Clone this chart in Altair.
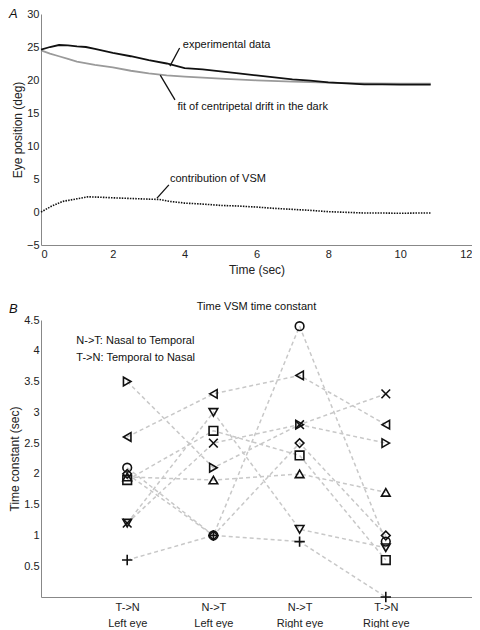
import altair as alt
import pandas as pd

# ---------------- Panel A data ----------------
t_exp = [0, 0.25, 0.5, 0.75, 1.0, 1.25, 1.5, 2.0, 2.5, 3.0, 3.5, 4.0, 4.5, 5.0, 5.5,
         6.0, 6.5, 7.0, 7.5, 8.0, 8.5, 9.0, 9.5, 10.0, 10.5, 10.85]
y_exp = [24.6, 25.0, 25.3, 25.25, 25.1, 25.0, 24.7, 24.1, 23.6, 23.0, 22.5, 21.8, 21.6,
         21.3, 21.0, 20.7, 20.4, 20.1, 19.9, 19.65, 19.5, 19.35, 19.35, 19.3, 19.3, 19.3]

t_fit = [0, 0.25, 0.5, 0.75, 1.0, 1.5, 2.0, 2.5, 3.0, 3.5, 4.0, 4.5, 5.0, 6.0, 7.0,
         8.0, 9.0, 10.0, 10.85]
y_fit = [24.5, 24.0, 23.6, 23.2, 22.8, 22.3, 21.9, 21.4, 21.0, 20.7, 20.5, 20.35, 20.2,
         19.95, 19.75, 19.6, 19.5, 19.45, 19.45]

t_vsm = [0, 0.3, 0.6, 1.0, 1.3, 1.6, 2.0, 2.5, 3.0, 3.3, 3.6, 4.0, 4.5, 5.0, 5.5, 6.0,
         6.5, 7.0, 7.5, 8.0, 8.5, 9.0, 9.5, 10.0, 10.5, 10.85]
y_vsm = [0, 0.9, 1.6, 2.0, 2.3, 2.25, 2.15, 2.05, 1.95, 1.9, 1.6, 1.35, 1.2, 1.0, 0.9,
         0.75, 0.55, 0.4, 0.25, 0.05, -0.05, -0.15, -0.15, -0.2, -0.15, -0.15]

ann_text = ["experimental data", "fit of centripetal drift in the dark", "contribution of VSM"]
ann_x = [3.95, 3.8, 3.59]
ann_y = [25.3, 15.9, 5.0]
ptr_x = [3.86, 3.73, 3.56]
ptr_y = [24.85, 17.0, 4.1]
ptr_x2 = [3.59, 3.32, 3.23]
ptr_y2 = [22.1, 20.75, 2.1]

# ---------------- Panel B data ----------------
conditions = [1, 2, 3, 4]
cond_dir = ["T->N", "N->T", "N->T", "T->N"]
cond_eye = ["Left eye", "Left eye", "Right eye", "Right eye"]

subjects = ["right", "left", "circle", "down", "up", "square", "x", "diamond", "plus"]
tc_right = [3.5, 2.1, 2.8, 2.5]
tc_left = [2.6, 3.3, 3.6, 2.8]
tc_circle = [2.1, 1.0, 4.4, 0.9]
tc_down = [1.2, 3.0, 1.1, 0.8]
tc_up = [1.95, 1.9, 2.0, 1.7]
tc_square = [1.9, 2.7, 2.3, 0.6]
tc_x = [1.2, 2.5, 2.8, 3.3]
tc_diamond = [2.0, 1.0, 2.5, 1.0]
tc_plus = [0.6, 1.0, 0.9, 0.0]
tc_all = [tc_right, tc_left, tc_circle, tc_down, tc_up, tc_square, tc_x, tc_diamond, tc_plus]

shapes = ["triangle-right", "triangle-left", "circle", "triangle-down", "triangle-up",
          "square", "M-1,-1L1,1M-1,1L1,-1", "diamond", "M-1.2,0L1.2,0M0,-1.2L0,1.2"]

note_lines = ["N->T: Nasal to Temporal", "T->N: Temporal to Nasal"]
note_x = [0.41, 0.41]
note_y = [4.16, 3.89]

title_b = ["Time VSM time constant"]
title_b_x = [2.5]
title_b_y = [4.71]

FONT = "Liberation Sans"
W = 431

# ---------------- Panel A ----------------
df_exp = pd.DataFrame({"t": t_exp, "y": y_exp})
df_fit = pd.DataFrame({"t": t_fit, "y": y_fit})
df_vsm = pd.DataFrame({"t": t_vsm, "y": y_vsm})
df_ann = pd.DataFrame({"t": ann_x, "y": ann_y, "text": ann_text})
df_ptr = pd.DataFrame({"t": ptr_x, "y": ptr_y, "t2": ptr_x2, "y2": ptr_y2})

axA_x = alt.Axis(title="Time (sec)", values=list(range(0, 13, 2)), grid=False,
                 labelFlush=True, labelPadding=3, titlePadding=5, labelOverlap=False,
                 format="~g")
axA_y = alt.Axis(title="Eye position (deg)", values=list(range(-5, 31, 5)), grid=False,
                 labelOverlap=False, labelPadding=2, titlePadding=2, format="~g")
scA_x = alt.Scale(domain=[0, 12], nice=False)
scA_y = alt.Scale(domain=[-5, 30], nice=False)
xA = alt.X("t:Q", scale=scA_x, axis=axA_x)
yA = alt.Y("y:Q", scale=scA_y, axis=axA_y)

fit_line = alt.Chart(df_fit).mark_line(color="#9a9a9a", strokeWidth=1.8).encode(x=xA, y=yA)
exp_line = alt.Chart(df_exp).mark_line(color="#111111", strokeWidth=1.8).encode(x=xA, y=yA)
vsm_line = alt.Chart(df_vsm).mark_line(color="#111111", strokeWidth=1.6,
                                       strokeDash=[1.5, 1.2]).encode(x=xA, y=yA)
ptr = alt.Chart(df_ptr).mark_rule(color="#111111", strokeWidth=1.3).encode(
    x=xA, y=yA, x2="t2:Q", y2="y2:Q")
ann = alt.Chart(df_ann).mark_text(align="left", baseline="middle", font=FONT,
                                  fontSize=11, color="#111111").encode(
    x=xA, y=yA, text="text:N")
labA = alt.Chart(pd.DataFrame({"l": ["A"]})).mark_text(
    align="left", baseline="top", font=FONT, fontSize=13, fontStyle="italic",
    color="#111111").encode(x=alt.value(-32), y=alt.value(-6), text="l:N")

panelA = alt.layer(fit_line, exp_line, vsm_line, ptr, ann, labA).properties(
    width=W, height=231)

# ---------------- Panel B ----------------
rows = []
for s, vals in zip(subjects, tc_all):
    for c, v in zip(conditions, vals):
        rows.append({"subject": s, "cond": c, "tc": v})
df_b = pd.DataFrame(rows)

label_expr = "[" + ",".join(
    "['%s','%s']" % (d, e) for d, e in zip(cond_dir, cond_eye)) + "][datum.value - 1]"

axB_x = alt.Axis(title=None, values=conditions, labelExpr=label_expr,
                 grid=False, labelLineHeight=16, labelPadding=4, labelOverlap=False)
axB_y = alt.Axis(title="Time constant (sec)",
                 values=[0.5, 1, 1.5, 2, 2.5, 3, 3.5, 4, 4.5], grid=False,
                 labelOverlap=False, labelPadding=2, titlePadding=2, format="~g")
xB = alt.X("cond:Q", scale=alt.Scale(domain=[0, 5], nice=False), axis=axB_x)
yB = alt.Y("tc:Q", scale=alt.Scale(domain=[0, 4.5], nice=False), axis=axB_y)

lines_b = alt.Chart(df_b).mark_line(color="#c8c8c8", strokeWidth=1.5,
                                    strokeDash=[4, 3]).encode(
    x=xB, y=yB, detail="subject:N", order="cond:Q")
points_b = alt.Chart(df_b).mark_point(filled=False, color="#111111", strokeWidth=1.6,
                                      size=75, opacity=1).encode(
    x=xB, y=yB,
    shape=alt.Shape("subject:N", scale=alt.Scale(domain=subjects, range=shapes), legend=None))
df_note = pd.DataFrame({"cond": note_x, "tc": note_y, "text": note_lines})
note = alt.Chart(df_note).mark_text(align="left", baseline="middle", font=FONT,
                                    fontSize=11, color="#111111").encode(
    x=xB, y=yB, text="text:N")
df_tb = pd.DataFrame({"cond": title_b_x, "tc": title_b_y, "text": title_b})
tb = alt.Chart(df_tb).mark_text(align="center", baseline="middle", font=FONT,
                                fontSize=11, color="#111111").encode(
    x=xB, y=yB, text="text:N")
labB = alt.Chart(pd.DataFrame({"l": ["B"]})).mark_text(
    align="left", baseline="top", font=FONT, fontSize=13, fontStyle="italic",
    color="#111111").encode(x=alt.value(-32), y=alt.value(-17), text="l:N")

panelB = alt.layer(lines_b, points_b, note, tb, labB).properties(width=W, height=277)

chart = alt.vconcat(panelA, panelB, spacing=26).configure_view(stroke=None).configure_axis(
    domainColor="#888888", tickSize=0, ticks=False,
    labelColor="#222222", labelFont=FONT, labelFontSize=11,
    titleColor="#222222", titleFont=FONT, titleFontSize=12, titleFontWeight="normal"
).properties(padding=0)

chart.save("out.html", embed_options={"renderer": "svg", "actions": False})
